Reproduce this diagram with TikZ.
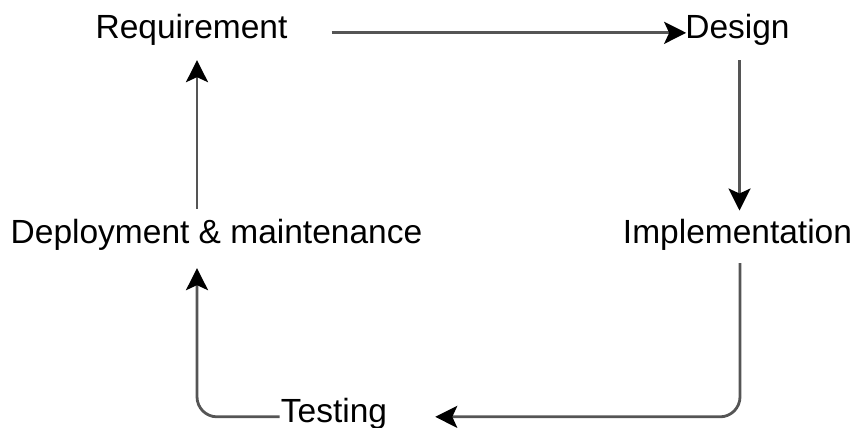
\documentclass[tikz,border=0pt]{standalone}
\usepackage{fontspec}
\setmainfont{Liberation Sans}
\usetikzlibrary{arrows.meta}
\definecolor{linegray}{RGB}{85,85,85}
\tikzset{
  lbl/.style={inner sep=0pt, anchor=base, font=\fontsize{33.5}{36}\selectfont, text=black},
  arr/.style={draw=linegray, line width=2.8pt, -{Stealth[length=22pt,width=22pt,inset=5pt,color=black]}},
}
\begin{document}
\begin{tikzpicture}[x=1pt,y=-1pt]
\useasboundingbox (0,0) rectangle (856,428);
\node[lbl] (req) at (191.5,39) {Requirement};
\node[lbl] (des) at (737.5,39) {Design};
\node[lbl] (imp) at (737.5,243) {Implementation};
\node[lbl] (dep) at (216.5,243) {Deployment \& maintenance};
\node[lbl] (tst) at (334,422) {Testing};
\draw[arr] ([xshift=44pt,yshift=-2.5pt]req.east) -- ([xshift=1pt,yshift=-2.5pt]des.west);
\draw[arr] ([xshift=2pt,yshift=-14pt]des.south) -- ([xshift=2pt,yshift=8pt]imp.north);
\draw[arr, rounded corners=20pt] ([xshift=2.5pt,yshift=-13pt]imp.south) |- ([xshift=48pt,yshift=-3.5pt]tst.east);
\draw[arr, rounded corners=20pt] ([xshift=-1pt,yshift=-3.5pt]tst.west) -| ([xshift=-19.5pt,yshift=-18pt]dep.south);
\draw[arr] ([xshift=-19.5pt,yshift=10pt]dep.north) -- ([xshift=5.5pt,yshift=-14pt]req.south);
\end{tikzpicture}
\end{document}
